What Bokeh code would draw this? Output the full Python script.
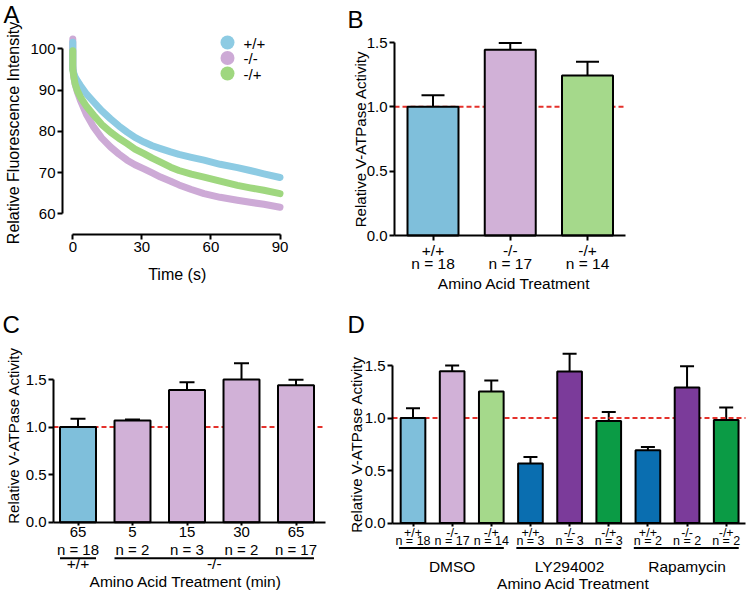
import math
from bokeh.plotting import figure
from bokeh.layouts import column, row
from bokeh.models import (ColumnDataSource, Whisker, TeeHead, Label, LinearAxis,
                          FixedTicker, NumeralTickFormatter)
from bokeh.embed import file_html
from bokeh.resources import INLINE

FONT = "Liberation Sans"

# ---------------- data ----------------
# Panel A: fluorescence traces
time_s = [0, 0, 0, 0.5, 1, 2, 3.3, 6, 9.1, 12.5, 16.4, 20, 23.6, 27, 30.9, 34.5,
          38.1, 42.5, 46.1, 51.5, 57, 64, 71.5, 77, 83, 90]
trace_wt = [101.6, 98, 95, 94, 93.2, 92.2, 91.1, 89, 87.1, 85.0, 83.0, 81.3, 79.8, 78.5,
            77.4, 76.5, 75.8, 75.0, 74.4, 73.7, 73.0, 72.0, 71.2, 70.5, 69.7, 68.8]
trace_ko = [102.4, 99, 96, 93, 91.5, 89.5, 87.5, 84, 81.0, 78.4, 76.2, 74.5, 73.0, 71.9,
            70.9, 69.9, 68.9, 67.9, 67.0, 65.9, 64.9, 64.0, 63.3, 62.8, 62.3, 61.6]
trace_rescue = [99.5, 97, 95, 93, 91.5, 89.8, 88.3, 86, 83.9, 81.7, 79.8, 78.3, 77.0, 75.7,
                74.6, 73.5, 72.5, 71.3, 70.5, 69.6, 68.9, 67.9, 66.9, 66.3, 65.7, 64.9]
legend_names = ["+/+", "-/-", "-/+"]
a_xticks = [0, 30, 60, 90]
a_yticks = [60, 70, 80, 90, 100]

# Panel B
b_geno = ["+/+", "-/-", "-/+"]
b_n = [18, 17, 14]
b_mean = [1.0, 1.443, 1.243]
b_err = [0.09, 0.054, 0.107]

# Panel C
c_time = ["65", "5", "15", "30", "65"]
c_geno = ["+/+", "-/-", "-/-", "-/-", "-/-"]
c_n = [18, 2, 3, 2, 17]
c_mean = [1.0, 1.069, 1.39, 1.5, 1.44]
c_err = [0.087, 0.011, 0.082, 0.172, 0.057]
c_groups = ["+/+", "-/-"]
c_group_first = [1, 2]
c_group_last = [1, 5]

# Panel D
d_geno = ["+/+", "-/-", "-/+", "+/+", "-/-", "-/+", "+/+", "-/-", "-/+"]
d_treat = ["DMSO", "DMSO", "DMSO", "LY294002", "LY294002", "LY294002",
           "Rapamycin", "Rapamycin", "Rapamycin"]
d_n = [18, 17, 14, 3, 3, 3, 2, 2, 2]
d_mean = [1.0, 1.446, 1.252, 0.566, 1.443, 0.972, 0.693, 1.29, 0.982]
d_err = [0.093, 0.054, 0.105, 0.063, 0.168, 0.086, 0.032, 0.203, 0.117]
d_groups = ["DMSO", "LY294002", "Rapamycin"]
d_group_first = [1, 4, 7]
d_group_last = [3, 6, 9]

act_ticks = [0, 0.5, 1.0, 1.5]
ref_level = 1.0

# ---------------- styles ----------------
LIGHT = {"+/+": "#7fbfdb", "-/-": "#d1b1d7", "-/+": "#a5d98b"}
DARK = {"+/+": "#0a6eb0", "-/-": "#7b3b9a", "-/+": "#0b9b45"}
CURVE = {"+/+": "#8dcbe3", "-/-": "#cdaad6", "-/+": "#9fd77f"}
RED = "#e4312b"
YLABEL = "Relative V-ATPase Activity"
BASE_SHIFT = 0.33   # measured offset of the label anchor from the glyph baseline (em)


def lin(p0, v0, p1, v1):
    """pixel -> data mapping from two calibration points"""
    k = (v1 - v0) / (p1 - p0)
    return lambda px: v0 + (px - p0) * k


def make_fig(W, H, left, top, fx, fy):
    p = figure(width=W, height=H, x_range=(fx(left), fx(left + W)),
               y_range=(fy(top + H), fy(top)), min_border=0, title=None,
               output_backend="svg", toolbar_location=None)
    p.xgrid.grid_line_color = None
    p.ygrid.grid_line_color = None
    p.outline_line_color = None
    p.background_fill_color = None
    p.border_fill_color = None
    return p


def style_axis(ax, fs, tick_out=5, standoff=2, line=True):
    ax.axis_line_width = 2
    ax.axis_line_color = "black" if line else None
    ax.major_tick_line_width = 2
    ax.major_tick_line_color = "black" if line else None
    ax.major_tick_in = 0
    ax.major_tick_out = tick_out
    ax.minor_tick_line_color = None
    ax.major_label_text_font = FONT
    ax.major_label_text_font_size = fs
    ax.major_label_text_color = "black"
    ax.major_label_standoff = standoff


def label(p, fx, fy, text, px, py, fs, align="left", rotated=False):
    """px, py: glyph baseline position in page pixels"""
    size = float(fs.replace("px", ""))
    if rotated:
        px = px - BASE_SHIFT * size
    else:
        py = py - BASE_SHIFT * size
    p.add_layout(Label(x=fx(px), y=fy(py), text=text, text_font=FONT, text_font_size=fs,
                       text_align=align, text_baseline="alphabetic",
                       angle=math.pi / 2 if rotated else 0.0, text_color="black"))


def extra_axis(p, ticks, overrides, fs, standoff):
    ax = LinearAxis(fixed_location=0, ticker=FixedTicker(ticks=ticks),
                    major_label_overrides=overrides)
    style_axis(ax, fs, tick_out=0, standoff=standoff, line=False)
    p.add_layout(ax, "below")
    return ax


def bar_panel(p, fx, fy, pos, mean, err, colors, width, head, spine_px, yaxis_px, xtick_out,
              xfs, line1, line1_standoff):
    lo, hi = fx(spine_px[0]), fx(spine_px[1])
    p.segment(x0=[lo], x1=[hi], y0=[ref_level], y1=[ref_level], line_color=RED, line_width=2,
              line_dash="5 3")
    src = ColumnDataSource(dict(x=pos, top=mean, upper=[m + e for m, e in zip(mean, err)],
                                color=colors))
    p.vbar(x="x", top="top", width=width, fill_color="color", line_color="black",
           line_width=2, source=src)
    p.add_layout(Whisker(base="x", lower="top", upper="upper", source=src, dimension="height",
                         line_width=2, line_color="black",
                         upper_head=TeeHead(size=head, line_width=2, line_color="black"),
                         lower_head=None))
    xa, ya = p.xaxis[0], p.yaxis[0]
    xa.fixed_location = 0
    xa.bounds = (lo, hi)
    xa.ticker = FixedTicker(ticks=pos)
    xa.major_label_overrides = {q: t for q, t in zip(pos, line1)}
    style_axis(xa, xfs, tick_out=xtick_out, standoff=line1_standoff)
    ya.fixed_location = fx(yaxis_px)
    ya.bounds = (0, 1.5)
    ya.ticker = FixedTicker(ticks=act_ticks)
    ya.formatter = NumeralTickFormatter(format="0.0")
    style_axis(ya, "15px", tick_out=5, standoff=2)


# ---------------- Panel A ----------------
A_W, A_H, A_L, A_T = 346, 300, 0, 0
fxA = lin(72.3, 0, 279.5, 90)
fyA = lin(48.3, 100, 213.3, 60)
pA = make_fig(A_W, A_H, A_L, A_T, fxA, fyA)
for ys, g in [(trace_ko, "-/-"), (trace_wt, "+/+"), (trace_rescue, "-/+")]:
    pA.line(time_s, ys, line_width=7, line_color=CURVE[g], line_cap="round", line_join="round")
leg_x, leg_y0, leg_pitch = 227, 42, 15.5
pA.scatter(x=[fxA(leg_x)] * len(legend_names),
           y=[fyA(leg_y0 + i * leg_pitch) for i in range(len(legend_names))],
           size=14, marker="circle", color=[CURVE[g] for g in legend_names], line_color=None)
for i, g in enumerate(legend_names):
    label(pA, fxA, fyA, g, leg_x + 16, leg_y0 + i * leg_pitch + 5.5, "15px")
xa, ya = pA.xaxis[0], pA.yaxis[0]
xa.fixed_location = fyA(234.3)
ya.fixed_location = fxA(62)
xa.bounds = (0, 90)
ya.bounds = (60, 100)
xa.ticker = FixedTicker(ticks=a_xticks)
ya.ticker = FixedTicker(ticks=a_yticks)
style_axis(xa, "15px", tick_out=5, standoff=2)
style_axis(ya, "15px", tick_out=5, standoff=2)
label(pA, fxA, fyA, "Time (s)", 176.7, 279, "16px", align="center")
label(pA, fxA, fyA, "Relative Fluorescence Intensity", 18.5, 132.5, "16px", align="center",
      rotated=True)
label(pA, fxA, fyA, "A", 3, 22, "24px")

# ---------------- Panel B ----------------
B_W, B_H, B_L, B_T = 400, 300, 346, 0
fxB = lin(432.5, 1, 587, 3)
fyB = lin(235, 0, 42, 1.5)
pB = make_fig(B_W, B_H, B_L, B_T, fxB, fyB)
b_pos = list(range(1, len(b_geno) + 1))
bar_panel(pB, fxB, fyB, b_pos, b_mean, b_err, [LIGHT[g] for g in b_geno], 0.66, 23,
          (394, 625), 394, 5, "15.5px", b_geno, 1)
extra_axis(pB, b_pos, {q: f"n = {n}" for q, n in zip(b_pos, b_n)}, "15.5px", 19)
label(pB, fxB, fyB, "Amino Acid Treatment", 513.7, 288, "15.5px", align="center")
label(pB, fxB, fyB, YLABEL, 365, 138.5, "15px", align="center", rotated=True)
label(pB, fxB, fyB, "B", 347, 27, "24px")

# ---------------- Panel C ----------------
C_W, C_H, C_L, C_T = 346, 293, 0, 300
fxC = lin(77.5, 1, 295.5, 5)
fyC = lin(521.7, 0, 379, 1.5)
pC = make_fig(C_W, C_H, C_L, C_T, fxC, fyC)
c_pos = list(range(1, len(c_time) + 1))
bar_panel(pC, fxC, fyC, c_pos, c_mean, c_err, [LIGHT[g] for g in c_geno], 0.66, 15,
          (53, 325), 53, 3, "15px", c_time, 2)
extra_axis(pC, c_pos, {q: f"n = {n}" for q, n in zip(c_pos, c_n)}, "15px", 19)
c_centers = [(f + l) / 2 for f, l in zip(c_group_first, c_group_last)]
extra_axis(pC, c_centers, {q: g for q, g in zip(c_centers, c_groups)}, "15.5px", 33)
c_under = fyC(521.7 + 36)
pC.segment(x0=[f - 0.33 for f in c_group_first], x1=[l + 0.33 for l in c_group_last],
           y0=c_under, y1=c_under, line_color="black", line_width=2)
label(pC, fxC, fyC, "Amino Acid Treatment (min)", 185.3, 586, "15.5px", align="center")
label(pC, fxC, fyC, YLABEL, 18, 435, "15px", align="center", rotated=True)
label(pC, fxC, fyC, "C", 2, 332, "24px")

# ---------------- Panel D ----------------
D_W, D_H, D_L, D_T = 400, 293, 346, 300
fxD = lin(412.5, 1, 725.7, 9)
fyD = lin(522.5, 0, 365, 1.5)
pD = make_fig(D_W, D_H, D_L, D_T, fxD, fyD)
d_pos = list(range(1, len(d_geno) + 1))
d_colors = [LIGHT[g] if t == "DMSO" else DARK[g] for g, t in zip(d_geno, d_treat)]
bar_panel(pD, fxD, fyD, d_pos, d_mean, d_err, d_colors, 0.63, 14,
          (392, 745), 392, 3, "12.5px", d_geno, 0)
extra_axis(pD, d_pos, {q: f"n = {n}" for q, n in zip(d_pos, d_n)}, "12.5px", 11)
d_centers = [(f + l) / 2 for f, l in zip(d_group_first, d_group_last)]
extra_axis(pD, d_centers, {q: g for q, g in zip(d_centers, d_groups)}, "15.5px", 35)
d_under = fyD(522.5 + 25)
pD.segment(x0=[f - 0.36 for f in d_group_first], x1=[l + 0.32 for l in d_group_last],
           y0=d_under, y1=d_under, line_color="black", line_width=2)
label(pD, fxD, fyD, "Amino Acid Treatment", 573, 588.5, "15.5px", align="center")
label(pD, fxD, fyD, YLABEL, 361, 444, "15px", align="center", rotated=True)
label(pD, fxD, fyD, "D", 347, 332, "24px")

layout = column(row(pA, pB), row(pC, pD))
open("out.html", "w").write(file_html(layout, INLINE))
